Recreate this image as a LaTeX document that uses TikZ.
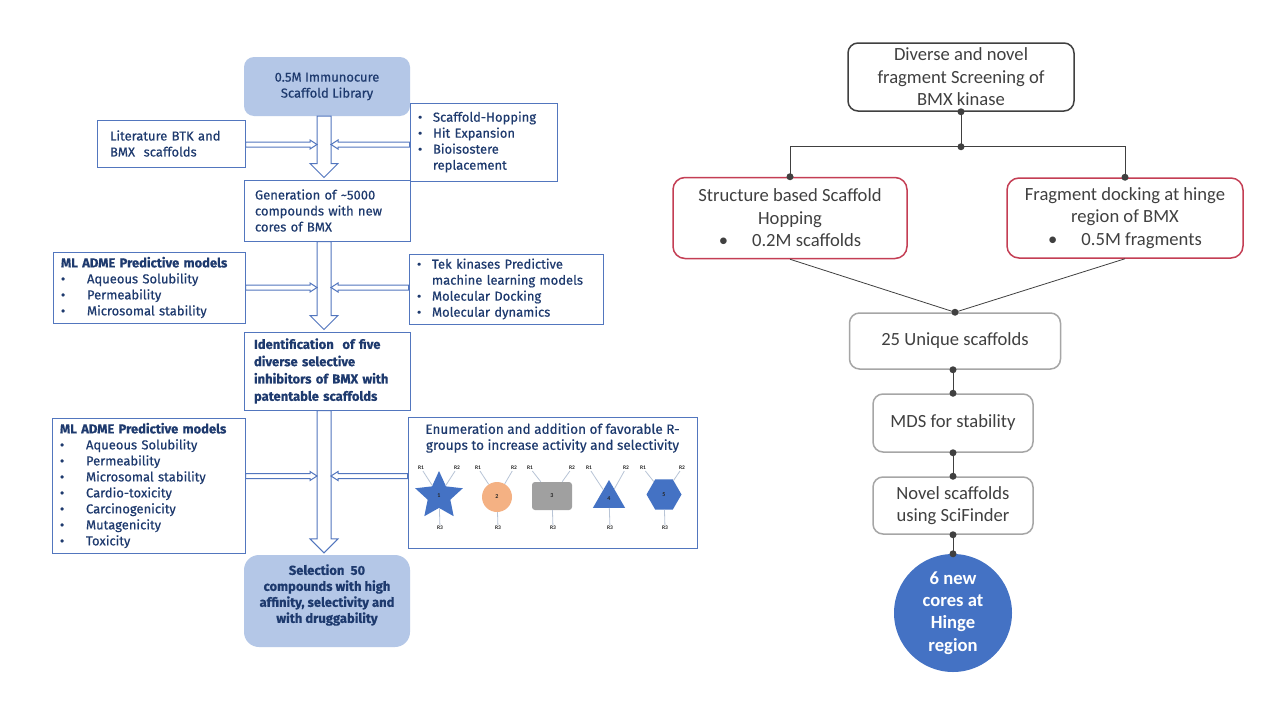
\documentclass[tikz,border=0pt]{standalone}
\usepackage{fontspec}
\setmainfont{Carlito}
\newfontfamily\dinfont{Fira Sans}[FakeBold=0.5]
\usetikzlibrary{calc}
\usetikzlibrary{shapes.geometric}

\definecolor{navy}{RGB}{30,58,110}
\definecolor{boxblue}{RGB}{82,118,190}
\definecolor{paleblue}{RGB}{180,199,231}
\definecolor{darkgray}{RGB}{64,64,64}
\definecolor{rosered}{RGB}{196,62,84}
\definecolor{softgray}{RGB}{166,166,166}
\definecolor{hingeblue}{RGB}{68,114,196}
\definecolor{peach}{RGB}{244,177,131}
\definecolor{midgray}{RGB}{160,160,160}
\definecolor{stemgray}{RGB}{184,196,214}

\newcommand\lbul{\makebox[26pt][l]{\textbullet}}
\newcommand\sbul{\makebox[15pt][l]{\textbullet}}

\newcommand\bigarrow[2]{%
  \draw[hollow] let \p1=(#1), \p2=(#2) in
    (\x1-7pt,\y1) -- (\x1-7pt,\y2+14pt) -- (\x1-14pt,\y2+14pt) -- (\x1,\y2)
    -- (\x1+14pt,\y2+14pt) -- (\x1+7pt,\y2+14pt) -- (\x1+7pt,\y1) -- cycle;}
\newcommand\sidearrow[2]{%
  \draw[hollow] let \p1=(#1), \p2=(#2), \p3=($(#2)!7pt!(#1)$) in
    (\x1,\y2+2.5pt) -- (\x3,\y2+2.5pt) -- (\x3,\y2+4.5pt) -- (\x2,\y2)
    -- (\x3,\y2-4.5pt) -- (\x3,\y2-2.5pt) -- (\x1,\y2-2.5pt) -- cycle;}

\begin{document}
\begin{tikzpicture}[x=1pt, y=-1pt]
    \tikzset{lbox/.style={draw=boxblue, line width=1pt, fill=white, text=navy, font={\dinfont\fontsize{13}{16}\selectfont}, align=left, inner ysep=2pt}}
    \tikzset{lround/.style={fill=paleblue, text=navy, font={\dinfont\fontsize{13}{16}\selectfont}, align=center}}
    \tikzset{ltext/.style={text=navy, font={\dinfont\fontsize{13.5}{16}\selectfont}, align=center, inner sep=0pt}}
    \tikzset{hollow/.style={draw=boxblue, fill=white, line width=1pt}}
    \tikzset{mol/.style={inner sep=0pt, text=black!85, font={\bfseries\fontsize{6}{7}\selectfont}}}
    \tikzset{rlabel/.style={inner sep=1pt, text=black!85, font={\bfseries\fontsize{5.5}{6}\selectfont}}}
    \tikzset{stem/.style={draw=stemgray, line width=0.8pt}}
    \tikzset{rtext/.style={text=darkgray, font={\fontsize{18.6}{22.5}\selectfont}, align=center}}
    \tikzset{topbox/.style={rtext, draw=darkgray, line width=1.5pt, rounded corners=10pt}}
    \tikzset{redbox/.style={rtext, draw=rosered, line width=1.5pt, rounded corners=12pt}}
    \tikzset{graybox/.style={rtext, draw=softgray, line width=1.5pt, rounded corners=10pt}}
    \tikzset{hinge/.style={circle, fill=hingeblue, text=white, font={\bfseries\fontsize{18.6}{22.3}\selectfont}, align=center, minimum size=118pt, inner sep=0pt}}
    \tikzset{link/.style={darkgray, line width=0.8pt}}
    \fill[white] (0,0) rectangle (1280,720);
    \useasboundingbox (0,0) rectangle (1280,720);
    % left flow
    \node[lround, rounded corners=10pt, minimum width=166pt, minimum height=59pt] (lib) at (327,86.5) {0.5M Immunocure\\Scaffold Library};
    \node[lbox, text width=122pt, inner xsep=13pt, minimum height=47pt] (lit) at (171,143.5) {Literature BTK and\\BMX\ \ scaffolds};
    \node[lbox, text width=131pt, inner xsep=8pt, minimum height=78pt] (hop) at (483.5,142) {\sbul Scaffold-Hopping\\\sbul Hit Expansion\\\sbul Bioisostere\\\hspace*{15pt}replacement};
    \node[lbox, text width=144pt, inner xsep=11pt, minimum height=61pt] (gen) at (327,210.5) {Generation of \textasciitilde5000\\compounds with new\\cores of BMX};
    \node[lbox, text width=176pt, inner xsep=8pt, minimum height=71pt] (adme1) at (149,287.5) {\textbf{ML ADME Predictive models}\\\lbul Aqueous Solubility\\\lbul Permeability\\\lbul Microsomal stability};
    \node[lbox, text width=178pt, inner xsep=8pt, minimum height=70pt] (tek) at (506,289) {\sbul Tek kinases Predictive\\\hspace*{15pt}machine learning models\\\sbul Molecular Docking\\\sbul Molecular dynamics};
    \node[lbox, text width=146pt, inner xsep=10pt, minimum height=78pt, font={\dinfont\bfseries\fontsize{13}{17.3}\selectfont}] (ident) at (327,371) {Identification\ \ of five\\diverse selective\\inhibitors of BMX with\\patentable scaffolds};
    \node[lbox, text width=177pt, inner xsep=8pt, minimum height=135pt] (adme2) at (148.5,485.5) {\textbf{ML ADME Predictive models}\\\lbul Aqueous Solubility\\\lbul Permeability\\\lbul Microsomal stability\\\lbul Cardio-toxicity\\\lbul Carcinogenicity\\\lbul Mutagenicity\\\lbul Toxicity};
    \node[lbox, minimum width=289pt, minimum height=131pt] (enum) at (552.5,482.5) {};
    \node[ltext] (enumtitle) at (552.5,438) {Enumeration and addition of favorable R-\\groups to increase activity and selectivity};
    \node[lround, rounded corners=15pt, minimum width=166pt, minimum height=92pt] (sel) at (327,601) {};
    \node[ltext, font={\dinfont\bfseries\fontsize{13}{16}\selectfont}] (seltext) at ($(sel.center)+(0,-6)$) {Selection\ \ 50\\compounds with high\\affinity, selectivity and\\with druggability};
    \bigarrow{$(lib.south)+(-3,0)$}{$(gen.north)+(-3,-2)$}
    \bigarrow{$(gen.south)+(-3,0)$}{$(ident.north)+(-3,-2)$}
    \bigarrow{$(ident.south)+(-3,0)$}{$(sel.north)+(-3,-2)$}
    \coordinate (tip1l) at ($(lit.east -| lib.south)+(-10,1)$);
    \coordinate (tip1r) at ($(tip1l)+(14,0)$);
    \coordinate (tip2l) at ($(adme1.east -| lib.south)+(-10,0)$);
    \coordinate (tip2r) at ($(tip2l)+(14,0)$);
    \coordinate (tip3l) at ($(adme2.east -| lib.south)+(-10,-9.5)$);
    \coordinate (tip3r) at ($(tip3l)+(14,0)$);
    \sidearrow{lit.east |- tip1l}{tip1l}
    \sidearrow{hop.west |- tip1r}{tip1r}
    \sidearrow{adme1.east |- tip2l}{tip2l}
    \sidearrow{tek.west |- tip2r}{tip2r}
    \sidearrow{adme2.east |- tip3l}{tip3l}
    \sidearrow{enum.west |- tip3r}{tip3r}
    % R-group cores
    \node[mol, star, star points=5, star point ratio=2.1, fill=hingeblue, minimum size=50pt] (sh1) at (439,496) {1};
    \node[mol, circle, fill=peach, minimum size=30pt] (sh2) at (497,497) {2};
    \node[mol, rectangle, rounded corners=3pt, fill=midgray, minimum width=40pt, minimum height=28pt] (sh3) at (552,496) {3};
    \node[mol, regular polygon, regular polygon sides=3, fill=hingeblue, minimum size=37pt] (sh4) at (609,498.5) {4};
    \node[mol, regular polygon, regular polygon sides=6, fill=hingeblue, minimum size=35pt] (sh5) at (664,494.5) {5};
    \foreach \i/\xa/\xb/\xc in {1/421/457/440, 2/478/514/498, 3/530/572/553, 4/589/626/610, 5/643/682/665} {
        \node[rlabel] (ra\i) at (\xa,468) {R1};
        \node[rlabel] (rb\i) at (\xb,468) {R2};
        \node[rlabel] (rc\i) at (\xc,528) {R3};
        \draw[stem] (ra\i) -- (sh\i);
        \draw[stem] (rb\i) -- (sh\i);
        \draw[stem] (rc\i) -- (sh\i);
    }
    % right flow
    \node[topbox, minimum width=226pt, minimum height=68pt] (screen) at (961,77) {Diverse and novel\\fragment Screening of\\BMX kinase};
    \node[redbox, minimum width=234pt, minimum height=81pt] (sbsh) at (790,218) {Structure based Scaffold\\Hopping\\\textbullet\hspace{24pt}0.2M scaffolds};
    \node[redbox, minimum width=236pt, minimum height=80pt] (frag) at (1125,218) {Fragment docking at hinge\\region of BMX\\\textbullet\hspace{24pt}0.5M fragments};
    \node[graybox, minimum width=211pt, minimum height=56pt] (uniq) at (955,341) {25 Unique scaffolds};
    \node[graybox, minimum width=160pt, minimum height=58pt] (mds) at (953,423) {MDS for stability};
    \node[graybox, minimum width=160pt, minimum height=57pt] (novel) at (953,505.5) {Novel scaffolds\\using SciFinder};
    \node[hinge] (cores) at (953,613) {6 new\\cores at\\Hinge\\region};
    \coordinate (split) at ($(screen.south)+(0,35)$);
    \draw[link] (screen.south) -- (split);
    \draw[link] (sbsh.north) |- (split) -| (frag.north);
    \draw[link] (sbsh.south) -- (uniq.north);
    \draw[link] (frag.south) -- (uniq.north);
    \foreach \p in {screen.south, split, sbsh.north, frag.north, uniq.north} {
        \fill[darkgray] (\p) circle[radius=3.5];
    }
    \foreach \a/\b in {uniq/mds, mds/novel, novel/cores} {
        \draw[link] (\b.north |- \a.south) -- (\b.north);
        \fill[darkgray] (\b.north |- \a.south) circle[radius=3.5];
        \fill[darkgray] (\b.north) circle[radius=3.5];
    }
\end{tikzpicture}
\end{document}
